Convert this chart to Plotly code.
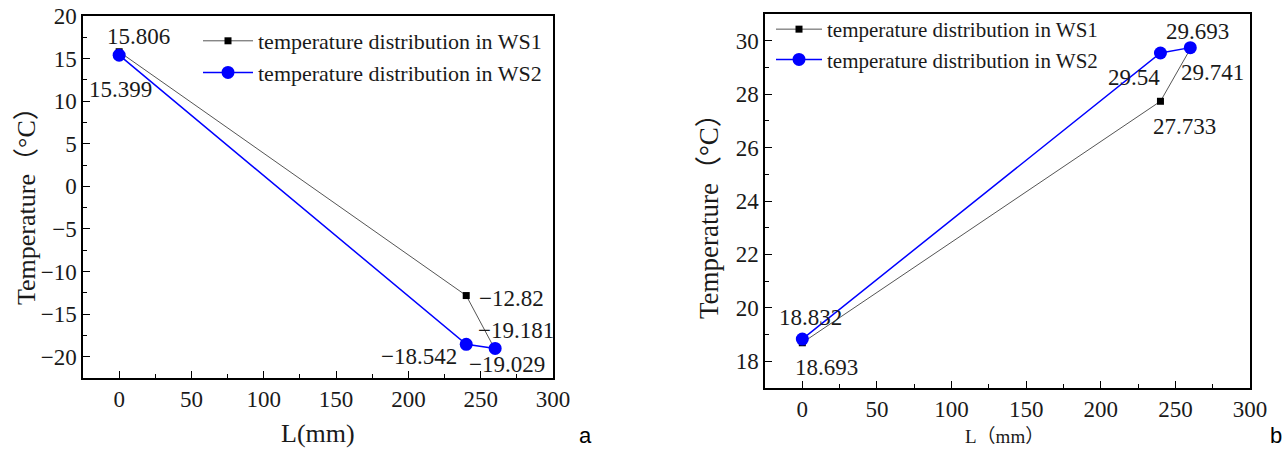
import plotly.graph_objects as go

# ---------------- data ----------------
L_pos = [0, 240, 260]

a_ws1 = [15.806, -12.82, -19.181]
a_ws2 = [15.399, -18.542, -19.029]

b_ws1 = [18.693, 27.733, 29.693]
b_ws2 = [18.832, 29.54, 29.741]

series_names = ["temperature distribution in WS1", "temperature distribution in WS2"]
x_ticks = [0, 50, 100, 150, 200, 250, 300]
a_y_ticks = [-20, -15, -10, -5, 0, 5, 10, 15, 20]
b_y_ticks = [18, 20, 22, 24, 26, 28, 30]

# ---------------- style ----------------
SERIF = "Liberation Serif"
SERIF_CJK = "Liberation Serif, Noto Sans CJK SC"
GRAY = "#555555"
BLUE = "#0000ff"
TXT = "#1a1a1a"
W, H = 1287, 450

def px(xp):
    return xp / W

def py(yp):
    return 1 - yp / H

fig = go.Figure()

# panel a
fig.add_trace(go.Scatter(x=L_pos, y=a_ws1, name=series_names[0], mode="lines+markers",
                         line=dict(color=GRAY, width=1),
                         marker=dict(symbol="square", size=7, color="black"),
                         xaxis="x", yaxis="y", legend="legend"))
fig.add_trace(go.Scatter(x=L_pos, y=a_ws2, name=series_names[1], mode="lines+markers",
                         line=dict(color=BLUE, width=1.5),
                         marker=dict(symbol="circle", size=13, color=BLUE),
                         xaxis="x", yaxis="y", legend="legend"))
# panel b
fig.add_trace(go.Scatter(x=L_pos, y=b_ws1, name=series_names[0], mode="lines+markers",
                         line=dict(color=GRAY, width=1),
                         marker=dict(symbol="square", size=7, color="black"),
                         xaxis="x2", yaxis="y2", legend="legend2"))
fig.add_trace(go.Scatter(x=L_pos, y=b_ws2, name=series_names[1], mode="lines+markers",
                         line=dict(color=BLUE, width=1.5),
                         marker=dict(symbol="circle", size=13, color=BLUE),
                         xaxis="x2", yaxis="y2", legend="legend2"))

axis_common = dict(showline=True, linecolor="black", linewidth=1.5, mirror=True,
                   ticks="inside", ticklen=7, tickwidth=1, tickcolor="black",
                   showgrid=False, zeroline=False,
                   tickfont=dict(family=SERIF, size=23, color=TXT))

fig.update_layout(
    width=W, height=H, margin=dict(l=0, r=0, t=0, b=0, autoexpand=False),
    paper_bgcolor="white", plot_bgcolor="white",
    font=dict(family=SERIF, color=TXT),
    xaxis=dict(domain=[px(83), px(553)], range=[-25, 300], tickvals=x_ticks,
               minor=dict(ticks="inside", ticklen=4, dtick=25, tick0=0, tickcolor="black"),
               anchor="y", **axis_common),
    yaxis=dict(domain=[py(378), py(16)], range=[-22.5, 20], tickvals=a_y_ticks,
               minor=dict(ticks="inside", ticklen=4, dtick=2.5, tick0=0, tickcolor="black"),
               anchor="x", **axis_common),
    xaxis2=dict(domain=[px(765), px(1250)], range=[-25, 300], tickvals=x_ticks,
                minor=dict(ticks="inside", ticklen=4, dtick=25, tick0=0, tickcolor="black"),
                anchor="y2", **axis_common),
    yaxis2=dict(domain=[py(388), py(14)], range=[17, 31], tickvals=b_y_ticks,
                minor=dict(ticks="inside", ticklen=4, dtick=1, tick0=0, tickcolor="black"),
                anchor="x2", **axis_common),
    legend=dict(x=px(198), y=py(20), xanchor="left", yanchor="top", itemwidth=50,
                bgcolor="rgba(0,0,0,0)", font=dict(family=SERIF, size=22, color=TXT),
                tracegroupgap=0),
    legend2=dict(x=px(771), y=py(9), xanchor="left", yanchor="top", itemwidth=46,
                 bgcolor="rgba(0,0,0,0)", font=dict(family=SERIF, size=21, color=TXT),
                 tracegroupgap=0),
    showlegend=True,
)

# data labels (offsets in px: xshift, yshift)
a_offsets_ws1 = [(19, 15), (45, -3), (21, 19)]
a_offsets_ws2 = [(1, -34), (-47, -12), (12, -16)]
b_offsets_ws1 = [(24, -25), (24, -25), (7, 17)]
b_offsets_ws2 = [(8, 22), (-26, -25), (22, -25)]

def fmt(v):
    return str(v).replace("-", "−")

for vals, offs, xr, yr in [(a_ws1, a_offsets_ws1, "x", "y"), (a_ws2, a_offsets_ws2, "x", "y"),
                           (b_ws1, b_offsets_ws1, "x2", "y2"), (b_ws2, b_offsets_ws2, "x2", "y2")]:
    for xv, yv, (dx, dy) in zip(L_pos, vals, offs):
        fig.add_annotation(x=xv, y=yv, xref=xr, yref=yr, text=fmt(yv), showarrow=False,
                           xanchor="center", yanchor="middle", xshift=dx, yshift=dy,
                           font=dict(family=SERIF, size=23, color=TXT))

# axis titles
titles = [
    dict(x=px(26), y=py(200), text="Temperature（°C）", textangle=-90, size=26),
    dict(x=px(318), y=py(433), text="L(mm)", textangle=0, size=26),
    dict(x=px(709), y=py(210), text="Temperature（°C）", textangle=-90, size=27),
    dict(x=px(1004), y=py(436), text="L（mm）", textangle=0, size=19),
]
for t in titles:
    fig.add_annotation(x=t["x"], y=t["y"], xref="paper", yref="paper", text=t["text"],
                       textangle=t["textangle"], showarrow=False,
                       xanchor="center", yanchor="middle",
                       font=dict(family=SERIF_CJK, size=t["size"], color=TXT))

# panel letters
for letter, xx, yy in [("a", 585, 435), ("b", 1276, 435)]:
    fig.add_annotation(x=px(xx), y=py(yy), xref="paper", yref="paper", text=letter,
                       showarrow=False, xanchor="center", yanchor="middle",
                       font=dict(family="Liberation Sans", size=22, color="black"))

fig.write_html("out.html")
